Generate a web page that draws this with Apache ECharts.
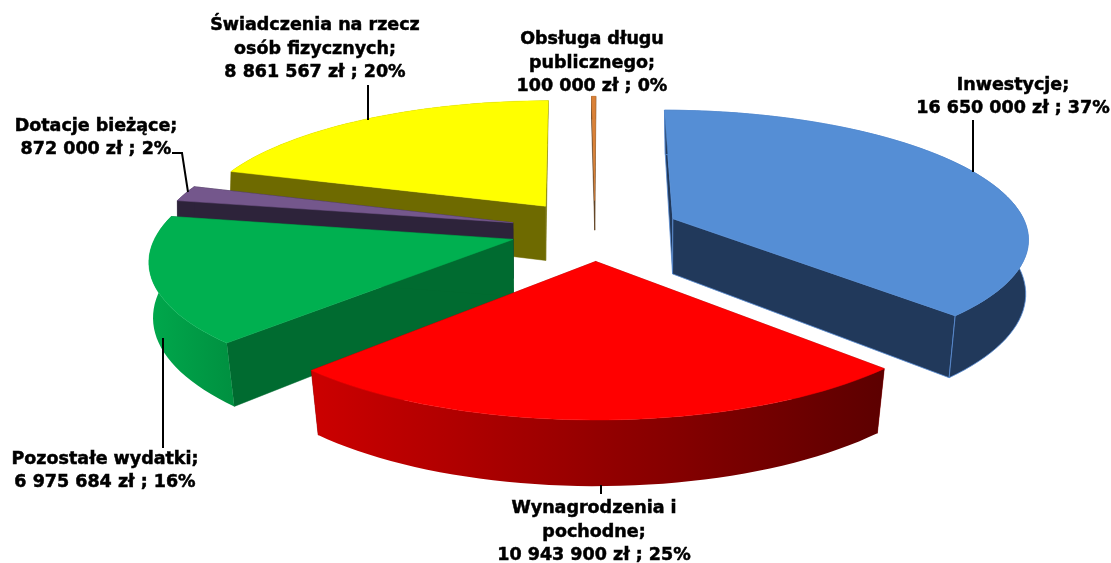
<!DOCTYPE html>
<html><head><meta charset="utf-8">
<script src="https://cdn.jsdelivr.net/npm/echarts@6/dist/echarts.min.js"></script>
<style>html,body{margin:0;padding:0;background:#fff}#c{width:1111px;height:563px}</style>
</head><body><div id="c"></div>
<script>
const categories = ["Inwestycje","Wynagrodzenia i pochodne","Pozostałe wydatki","Dotacje bieżące","Świadczenia na rzecz osób fizycznych","Obsługa długu publicznego"];
const values = [16650000,10943900,6975684,872000,8861567,100000];
const percents = [37,25,16,2,20,0];
const labelNameLines = [["Inwestycje;"],["Wynagrodzenia i","pochodne;"],["Pozostałe wydatki;"],["Dotacje bieżące;"],["Świadczenia na rzecz","osób fizycznych;"],["Obsługa długu","publicznego;"]];

// styling and layout, kept apart from the values
const topColors = ['#558ed5','#ff0000','#00b050','#74578c','#ffff00','#da8137'];
const radialColors = ['#21395b','#8a0000','#006b30','#2d233a','#6e6a00','#5a3a1a'];
const wallStops = [['#21395b','#21395b'],['#cc0000','#5c0000'],['#00a84c','#009040'],['#2d233a','#2d233a'],['#6e6a00','#6e6a00'],['#5a3a1a','#5a3a1a']];
const wallDepth = [1,1,1,1,1,0.55];
const paintOrder = [5,4,3,2,0,1];
const labelCentres = [[1013,97],[594,532],[105,471],[96,138],[315,49],[592,63]];
const leaders = [[[973,120],[973,172]],[[601,485],[601,494]],[[163,338],[163,448]],[[172,153],[182,153],[188,192]],[[368,85],[368,120]],[]];
const view = {cx:595,cy:230,A:355,B:126.6,H:56.5,p:0.14,q:0.017,explode:0.24,start:0.2};

function project(u,v,z){
  const w = 1/(1 - view.p*v + view.q*z*(0.3+v));
  return [view.cx + view.A*u*w, view.cy + (view.B*v + view.H*z*(1+0.07*v))*w];
}
const total = values.reduce((a,b)=>a+b,0);
const slices = [];
let acc = view.start;
values.forEach(function(val){
  const sweep = val/total*360;
  slices.push([acc, acc+sweep]);
  acc += sweep;
});
function dir(d){const t=d*Math.PI/180;return [Math.sin(t),-Math.cos(t)];}
function fmt(n){return String(n).replace(/\B(?=(\d{3})+(?!\d))/g,' ');}

function renderSlice(params, api){
  const i = api.value(0);
  const a = slices[i][0], b = slices[i][1];
  const m = dir((a+b)/2);
  const ex = m[0]*view.explode, ey = m[1]*view.explode;
  const n = Math.max(2, Math.ceil((b-a)/2));
  const zb = wallDepth[i];
  const arcTop=[], arcBot=[];
  for(let k=0;k<=n;k++){
    const d = dir(a+(b-a)*k/n);
    arcTop.push(project(ex+d[0], ey+d[1], 0));
    arcBot.push(project(ex+d[0], ey+d[1], zb));
  }
  const apexTop = project(ex,ey,0), apexBot = project(ex,ey,zb);
  const edge = i===0 ? {stroke:'#5b8ed5',lineWidth:0.8} : {stroke:null};
  const poly = (pts,fill,st)=>({type:'polygon',shape:{points:pts},style:Object.assign({fill:fill},st||{stroke:fill,lineWidth:0.5})});
  const wallFill = new echarts.graphic.LinearGradient(0,0,1,0,[{offset:0,color:wallStops[i][0]},{offset:1,color:wallStops[i][1]}]);
  const children = [
    poly([apexTop,arcTop[0],arcBot[0],apexBot],radialColors[i], i===0?edge:null),
    poly([apexTop,arcTop[n],arcBot[n],apexBot],radialColors[i], i===0?edge:null),
    poly(arcTop.concat(arcBot.slice().reverse()),wallFill, i===0?edge:{stroke:null}),
    poly([apexTop].concat(arcTop),topColors[i])
  ];
  return {type:'group',children:children};
}
function renderLabel(params, api){
  const i = api.value(0);
  const lines = labelNameLines[i].concat([fmt(values[i])+' zł ; '+percents[i]+'%']);
  const c = labelCentres[i];
  const children = [];
  if(leaders[i].length){
    children.push({type:'polyline',shape:{points:leaders[i]},style:{stroke:'#000',lineWidth:2,fill:null}});
  }
  children.push({type:'text',style:{
    text:lines.join('\n'),x:c[0],y:c[1],align:'center',verticalAlign:'middle',
    font:'bold 17.5px "DejaVu Sans"',lineHeight:23.5,fill:'#000',stroke:'#000',lineWidth:0.5}});
  return {type:'group',children:children};
}
const chart = echarts.init(document.getElementById('c'),null,{renderer:'canvas'});
chart.setOption({
  animation:false,
  backgroundColor:'#fff',
  series:[
    {type:'custom',coordinateSystem:'none',silent:true,z:2,renderItem:renderSlice,
     data:paintOrder.map(i=>({name:categories[i],value:[i,values[i]]}))},
    {type:'custom',coordinateSystem:'none',silent:true,z:3,renderItem:renderLabel,
     data:categories.map((c,i)=>({name:c,value:[i,values[i]]}))}
  ]
});
</script></body></html>
